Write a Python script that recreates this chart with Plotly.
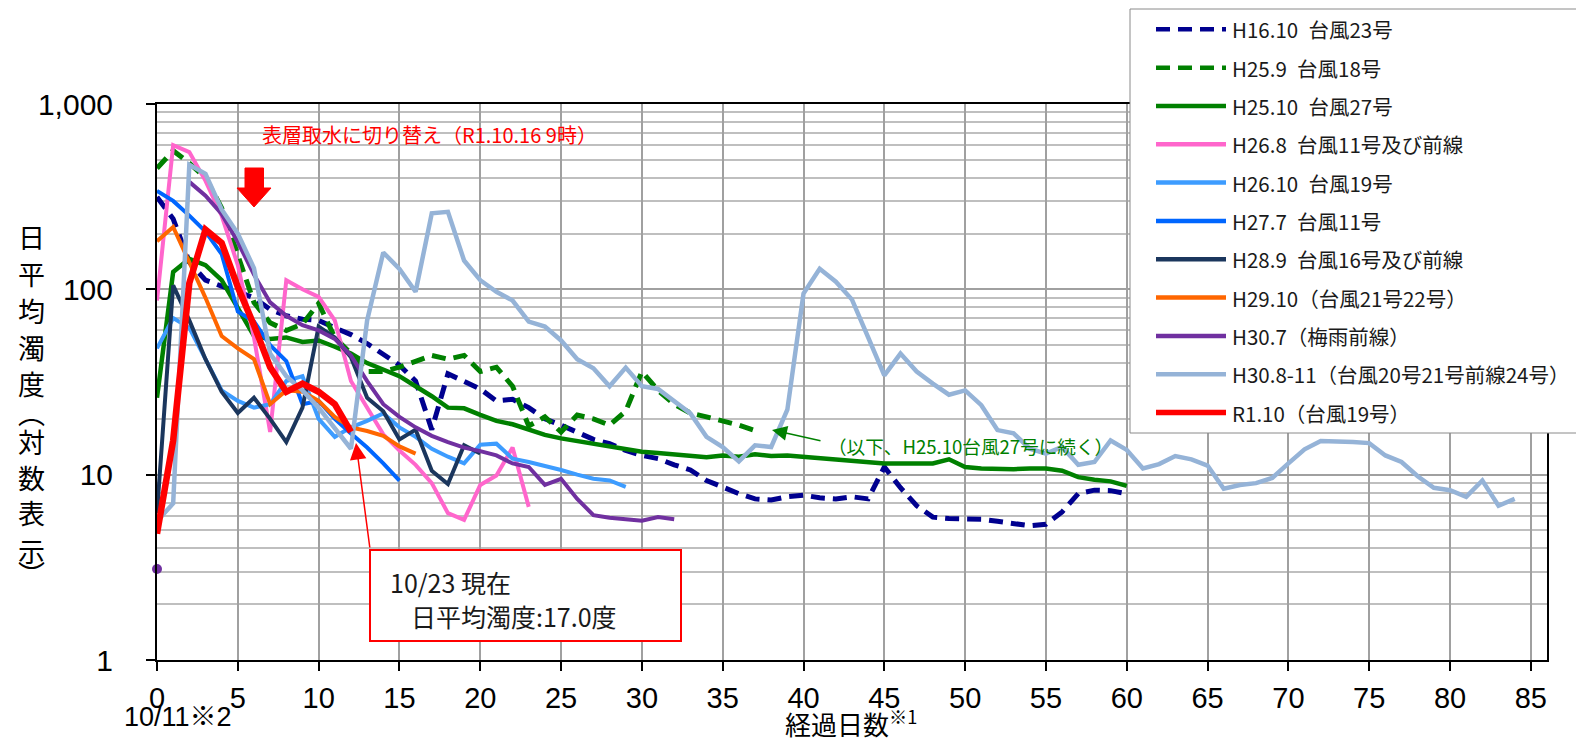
import plotly.graph_objects as go

# ---------------- data (turbidity by elapsed day, index = day) ----------------
series_names = [
    "H16.10 台風23号", "H25.9 台風18号", "H25.10 台風27号", "H26.8 台風11号及び前線",
    "H26.10 台風19号", "H27.7 台風11号", "H28.9 台風16号及び前線", "H29.10（台風21号22号）",
    "H30.7（梅雨前線）", "H30.8-11（台風20号21号前線24号）", "R1.10（台風19号）",
]

h16_10 = [315, 240, 140, 112, 104, 97, 90, 78, 72, 69, 68, 62, 57, 51, 45, 39, 32, 17.5, 35, 32,
          29, 25, 25.5, 23, 20, 18.5, 17, 15.5, 14.7, 13.5, 12.7, 12.2, 11.3, 10.6, 9.3, 8.5, 7.9, 7.4, 7.3, 7.6,
          7.75, 7.5, 7.4, 7.6, 7.4, 11, 8.5, 6.8, 5.9, 5.8, 5.8, 5.75, 5.6, 5.45, 5.3, 5.4, 6.3, 7.9, 8.25, 8.2, 7.9]
h25_9 = [450, 560, 480, 400, 275, 150, 85, 66, 60, 65, 84, 55, 45, 36, 36, 38, 41, 44, 42, 44,
         36, 38, 30, 18.3, 20.5, 17, 21, 20, 18.5, 22, 36, 28.5, 24, 21.5, 20.5, 19.5, 18.5, 17.3]
h25_10 = [26, 124, 146, 135, 112, 80, 56, 54, 55, 52, 53, 49, 45, 40, 37, 34, 30, 26.5, 23, 22.8,
          21, 19.5, 18.7, 17.5, 16.4, 15.7, 15.2, 14.7, 14.2, 13.7, 13.3, 13.1, 12.9, 12.7, 12.4, 12.7, 12.5, 12.9, 12.6, 12.7,
          12.5, 12.3, 12.0, 11.8, 11.6, 11.5, 11.5, 11.5, 11.5, 12.1, 11.0, 10.8, 10.7, 10.7, 10.8, 10.8, 10.5, 9.7, 9.4, 9.2, 8.7]
h26_8 = [87, 600, 550, 385, 250, 135, 55, 17, 112, 100, 91, 68, 32, 23, 16.5, 13.5, 11.3, 9, 6.2, 5.7, 8.8, 9.9, 14, 6.7]
h26_10 = [48, 70, 62, 42, 28.5, 25, 23, 24, 32, 34, 20, 16, 18, 19.5, 21.4, 18, 16, 13.8, 12.5, 11.5,
          14.5, 14.7, 12.2, 11.7, 11.2, 10.6, 10, 9.5, 9.3, 8.6]
h27_7 = [340, 300, 250, 205, 155, 76, 67, 50, 41, 24, 25, 20, 16.7, 14, 11.5, 9.3]
h28_9 = [6.2, 105, 68, 42, 28, 21.5, 26, 20, 15, 23, 63, 55, 43, 26, 22, 15.5, 17.5, 10.5, 8.9, 14.4, 13]
h29_10 = [182, 217, 140, 90, 56, 48, 42, 24, 28.5, 28, 25, 20.5, 18, 17.2, 16.2, 14.2, 13]
h30_7 = [3.1, None, 380, 320, 255, 180, 120, 85, 72, 64, 60, 54, 44, 32, 24, 20.5, 18, 16.2, 15, 14,
         13.4, 12.7, 11.5, 11, 8.8, 9.5, 7.4, 6.05, 5.85, 5.75, 5.65, 5.9, 5.75]
h30_8_11 = [5.6, 7, 470, 420, 270, 200, 130, 45, 34, 28.5, 23, 18, 13.8, 68, 158, 129, 97, 257, 262, 143,
            112, 97, 87, 67, 63, 53, 42, 37.5, 30, 37.8, 30, 29, 25, 21.4, 16, 14.1, 11.8, 14.4, 14.1, 22.4,
            95, 129, 110, 88, 55, 34.3, 45, 36, 31, 27, 28.5, 23.7, 17.4, 16.7, 13.8, 13, 14.1, 11.3, 11.7, 15.3,
            13.6, 10.8, 11.4, 12.6, 12.1, 11.2, 8.4, 8.8, 9.0, 9.6, 11.5, 13.7, 15.2, 15.2, 15.0, 14.8, 12.7, 11.7, 9.8, 8.5,
            8.25, 7.6, 9.3, 6.8, 7.4]
r1_10 = [4.8, 15.3, 108, 210, 178, 103, 64, 38, 28, 31, 28, 24, 17.0]

series_values = [h16_10, h25_9, h25_10, h26_8, h26_10, h27_7, h28_9, h29_10, h30_7, h30_8_11, r1_10]

x_ticks = list(range(0, 90, 5))
y_ticks = [1, 10, 100, 1000]
y_ticktext = ["1", "10", "100", "1,000"]

# ---------------- styles ----------------
colors = ["#00008f", "#008000", "#008000", "#ff66cc", "#3d9cff", "#0066ff", "#1b365d",
          "#ff6600", "#7030a0", "#95b3d7", "#ff0000"]
widths = [5, 5, 4.5, 4, 4, 4, 4, 4, 4, 4.5, 6.5]
dashes = ["14px,8px", "14px,8px", "solid", "solid", "solid", "solid", "solid", "solid", "solid", "solid", "solid"]

W, H = 1576, 744
L, R, T, B = 157, 29, 104, 84
PW, PH = W - L - R, H - T - B


def px(fx):
    return (fx - L) / PW


def py(fy):
    return (H - B - fy) / PH


JP = "Noto Sans CJK JP"
NUM = "Liberation Sans, Arial, Noto Sans CJK JP"

fig = go.Figure()
for name, vals, c, w, d in zip(series_names, series_values, colors, widths, dashes):
    fig.add_trace(go.Scatter(
        x=list(range(len(vals))), y=vals, mode="lines", name=name,
        line=dict(color=c, width=w, dash=d), connectgaps=False, showlegend=False,
    ))
# isolated first point of H30.7
fig.add_trace(go.Scatter(x=[0], y=[h30_7[0]], mode="markers", name=series_names[8],
                         marker=dict(color=colors[8], size=10), showlegend=False, cliponaxis=False))

minor_vals = [m * 10 ** e for e in range(0, 3) for m in range(2, 10)]

fig.update_layout(
    width=W, height=H,
    margin=dict(l=L, r=R, t=T, b=B, autoexpand=False),
    plot_bgcolor="white", paper_bgcolor="white", showlegend=False,
)
fig.update_xaxes(
    range=[0, 86], tickmode="array", tickvals=x_ticks,
    showgrid=True, gridcolor="#a0a0a0", gridwidth=1.5, zeroline=False,
    showline=True, linecolor="black", linewidth=2, mirror=True,
    ticks="outside", ticklen=9, tickwidth=1.5, tickcolor="black",
    tickfont=dict(family=NUM, size=29, color="black"), ticklabelstandoff=2,
)
fig.update_yaxes(
    type="log", range=[0, 3], tickmode="array", tickvals=y_ticks, ticktext=y_ticktext,
    showgrid=True, gridcolor="#a0a0a0", gridwidth=1.5, zeroline=False,
    minor=dict(tickmode="array", tickvals=minor_vals, showgrid=True, gridcolor="#bfbfbf", gridwidth=1.6, ticks=""),
    showline=True, linecolor="black", linewidth=2, mirror=True,
    ticks="outside", ticklen=9, tickwidth=1.5, tickcolor="black",
    tickfont=dict(family=NUM, size=30, color="black"), ticklabelstandoff=27,
)

shapes = []
annotations = []

# white box behind the intake note
shapes.append(dict(type="rect", xref="paper", yref="paper", x0=px(238), x1=px(606), y0=py(158), y1=py(105),
                   fillcolor="white", line=dict(width=0), layer="between"))
annotations.append(dict(xref="paper", yref="paper", x=px(260), y=py(134), xanchor="left", yanchor="middle",
                        text="表層取水に切り替え（R1.10.16 9時）", showarrow=False,
                        font=dict(family=JP, size=20, color="#ff0000")))
# red block arrow
pts = [(245, 168), (263.5, 168), (263.5, 188), (271, 188), (254, 207), (237, 188), (245, 188)]
path = "M " + " L ".join(f"{px(a):.5f},{py(b):.5f}" for a, b in pts) + " Z"
shapes.append(dict(type="path", xref="paper", yref="paper", path=path, fillcolor="#ff0000",
                   line=dict(color="#ff0000", width=1), layer="above"))

# callout box
shapes.append(dict(type="rect", xref="paper", yref="paper", x0=px(370), x1=px(681), y0=py(641), y1=py(550),
                   fillcolor="white", line=dict(color="#ff0000", width=2), layer="above"))
annotations.append(dict(xref="paper", yref="paper", x=px(388), y=py(582), xanchor="left", yanchor="middle",
                        text="10/23 現在", showarrow=False, font=dict(family=JP, size=25, color="#1a1a1a")))
annotations.append(dict(xref="paper", yref="paper", x=px(409), y=py(616), xanchor="left", yanchor="middle",
                        text="日平均濁度:17.0度", showarrow=False, font=dict(family=JP, size=25, color="#1a1a1a")))
annotations.append(dict(xref="paper", yref="paper", x=px(356), y=py(443), ax=14, ay=106, text="",
                        showarrow=True, arrowhead=2, arrowsize=2.2, arrowwidth=1.5, arrowcolor="#ff0000",
                        standoff=0, startstandoff=0))

# green note
annotations.append(dict(xref="paper", yref="paper", x=px(826), y=py(445), xanchor="left", yanchor="middle",
                        text="（以下、H25.10台風27号に続く）", showarrow=False,
                        font=dict(family=JP, size=18.6, color="#008000")))
annotations.append(dict(xref="paper", yref="paper", x=px(772), y=py(430), ax=50, ay=11, text="",
                        showarrow=True, arrowhead=2, arrowsize=2, arrowwidth=1.5, arrowcolor="#008000",
                        standoff=0, startstandoff=0))

# axis texts
ytitle_chars = ["日", "平", "均", "濁", "度", "︵", "対", "数", "表", "示", "︶"]
ytitle_y = [237, 273, 310, 347, 383, 412, 441, 477, 512, 550, 573]
for ch, yy in zip(ytitle_chars, ytitle_y):
    annotations.append(dict(xref="paper", yref="paper", x=px(31), y=py(yy), xanchor="center", yanchor="middle",
                            text=ch, showarrow=False, borderpad=0, font=dict(family=JP, size=27, color="black")))
annotations.append(dict(xref="paper", yref="paper", x=px(178), y=py(717), xanchor="center", yanchor="middle",
                        text="10/11※2", showarrow=False, borderpad=0, font=dict(family=NUM, size=27, color="black")))
annotations.append(dict(xref="paper", yref="paper", x=px(784), y=py(722), xanchor="left", yanchor="middle",
                        text="経過日数<sup>※1</sup>", showarrow=False, borderpad=0,
                        font=dict(family=JP, size=26, color="black")))

# manual legend
shapes.append(dict(type="rect", xref="paper", yref="paper", x0=px(1130), x1=px(1590), y0=py(433), y1=py(9),
                   fillcolor="white", line=dict(color="#8a8a8a", width=1), layer="above"))
for i, (name, c, w, d) in enumerate(zip(series_names, colors, widths, dashes)):
    yy = 29.3 + 38.33 * i
    shapes.append(dict(type="line", xref="paper", yref="paper", x0=px(1156), x1=px(1226), y0=py(yy), y1=py(yy),
                       line=dict(color=c, width=5.5 if i == 10 else 4.5, dash=d if d != "solid" else None),
                       layer="above"))
    annotations.append(dict(xref="paper", yref="paper", x=px(1231), y=py(yy), xanchor="left", yanchor="middle",
                            text=name.replace(" ", "\u2002"), showarrow=False, borderpad=0,
                            font=dict(family=JP, size=20.5, color="#1a1a1a")))

fig.update_layout(shapes=shapes, annotations=annotations)

fig.write_html("out.html", config={"displayModeBar": False},
               post_script="document.body.style.margin='0';document.body.style.overflow='hidden';")
